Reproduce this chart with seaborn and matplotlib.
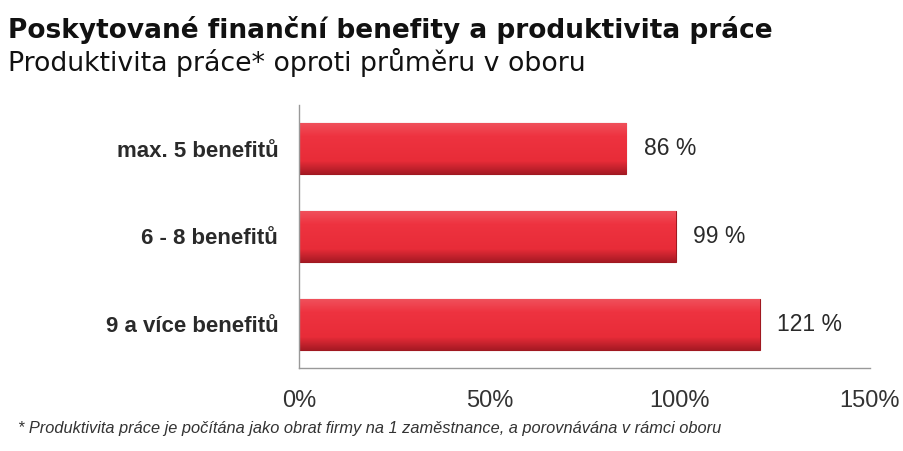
import matplotlib
matplotlib.use("Agg")
import matplotlib.pyplot as plt
import seaborn as sns
import pandas as pd
import numpy as np
from matplotlib.colors import LinearSegmentedColormap

categories = ["max. 5 benefitů", "6 - 8 benefitů", "9 a více benefitů"]
values = [86, 99, 121]
value_labels = ["86 %", "99 %", "121 %"]
xticks = [0, 50, 100, 150]
xtick_labels = ["0%", "50%", "100%", "150%"]

title = "Poskytované finanční benefity a produktivita práce"
subtitle = "Produktivita práce* oproti průměru v oboru"
footnote = "* Produktivita práce je počítána jako obrat firmy na 1 zaměstnance, a porovnávána v rámci oboru"

sns.set_theme(style="white")
plt.rcParams['font.family'] = ['Liberation Sans', 'DejaVu Sans']

df = pd.DataFrame({"cat": categories, "val": values})

fig = plt.figure(figsize=(9.04, 4.51), dpi=100)
ax = fig.add_axes([299/904, 1-368/451, (870-299)/904, (368-105)/451])

sns.barplot(data=df, y="cat", x="val", orient="h", color="#EC2D39",
            width=0.58, edgecolor="#A01820", linewidth=0.8, ax=ax, saturation=1)

ax.set_xlim(0, 150)
ax.set_ylim(2.5, -0.5)

# subtle vertical gradient inside each bar (clipped to the bar patches)
cmap = LinearSegmentedColormap.from_list(
    "barshade", [(0.0, "#F0505B"), (0.25, "#EE3340"), (0.75, "#E82C38"), (1.0, "#A81A24")])
grad = np.linspace(0, 1, 64).reshape(-1, 1)
for p in ax.patches:
    x0, y0 = p.get_x(), p.get_y()
    w, h = p.get_width(), p.get_height()
    im = ax.imshow(grad, cmap=cmap, aspect="auto",
                   extent=(x0, x0 + w, y0 + h, y0), origin="upper", zorder=p.get_zorder() + 0.1)
    im.set_clip_path(p)
ax.set_xlim(0, 150)
ax.set_ylim(2.5, -0.5)

ax.set_xticks(xticks)
ax.set_xticklabels(xtick_labels, fontsize=17, color="#333333")
ax.set_xlabel("")
ax.set_ylabel("")
ax.set_yticks([0, 1, 2])
ax.set_yticklabels(categories, fontsize=16, fontweight="bold", color="#2a2a2a")
ax.tick_params(axis="y", length=0, pad=15)
ax.tick_params(axis="x", length=5, direction="inout", color="#999999", pad=13)

ax.set_yticks([-0.5, 0.5, 1.5, 2.5], minor=True)
ax.tick_params(axis="y", which="minor", length=5, color="#999999", direction="out")

for s in ["top", "right"]:
    ax.spines[s].set_visible(False)
for s in ["left", "bottom"]:
    ax.spines[s].set_color("#999999")
    ax.spines[s].set_linewidth(1.0)

for i, (v, lab) in enumerate(zip(values, value_labels)):
    ax.text(v + 4.5, i, lab, va="center", ha="left", fontsize=16.5, color="#2a2a2a")

fig.text(8/904, 1-38/451, title, fontsize=19.0, fontweight="bold", color="#111111",
         va="baseline", family=["DejaVu Sans"])
fig.text(8/904, 1-71/451, subtitle, fontsize=19.3, color="#111111",
         va="baseline", family=["DejaVu Sans"])
fig.text(18/904, 1-433/451, footnote, fontsize=11.8, style="italic", color="#333333", va="baseline")

fig.savefig("out.png", dpi=100)
